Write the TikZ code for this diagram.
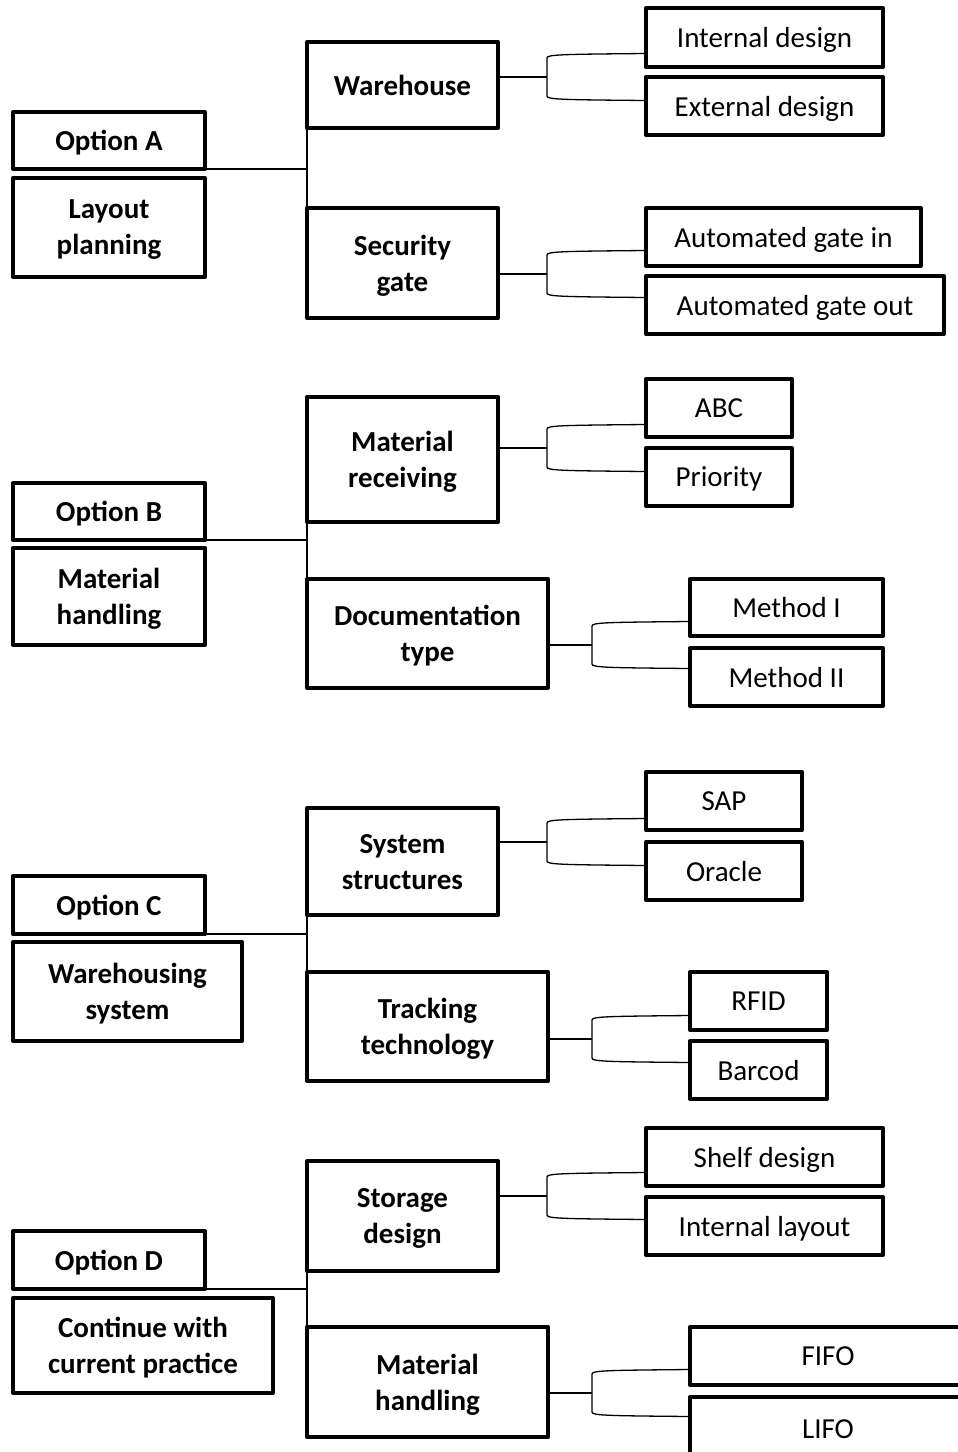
\documentclass[tikz,border=0pt]{standalone}
\usepackage{fontspec}
\setmainfont{Carlito}
\usetikzlibrary{calc}
\tikzset{
  bb/.style={draw, line width=4pt, line join=round, outer sep=0pt, inner sep=0pt,
    align=center, text depth=0pt, font=\bfseries\fontsize{29}{36}\selectfont},
  rb/.style={bb, font=\fontsize{29}{36}\selectfont},
  conn/.style={draw, line width=1.3pt}
}
\newcommand{\bx}[7]{%
  \node[#6, minimum width={#4-#2}, minimum height={#5-#3}] (#1) at ({(#2+#4)/2},{(#3+#5)/2+1}) {#7};}
\newcommand{\brk}[5]{% parent, top child, bottom child, stem y, bracket x
  \pgfmathsetmacro\bya{#4-23.5}\pgfmathsetmacro\byb{#4-19}%
  \pgfmathsetmacro\byc{#4+19}\pgfmathsetmacro\byd{#4+23.5}%
  \pgfmathsetmacro\bxa{#5+14}%
  \draw[conn] (#1.east |- 0,#4) -- (#5,#4);
  \draw[conn] (#2.west |- 0,\bya) .. controls (\bxa,\bya+0.8) and (#5,\bya+1) .. (#5,\byb)
    -- (#5,\byc) .. controls (#5,\byd-1) and (\bxa,\byd-0.8) .. (#3.west |- 0,\byd);}
\newcommand{\opt}[3]{% option, upper mid, lower mid
  \draw[conn] (#1.south east) -- (#1.south east -| #2.south west);
  \draw[conn] (#2.south west) -- (#3.north west);}
\begin{document}
\begin{tikzpicture}[x=1pt,y=-1pt]
\useasboundingbox (0,0) rectangle (958,1452);
\fill[white] (0,0) rectangle (958,1452);
\clip (0,0) rectangle (958,1452);
% Group A
\bx{optA}{13}{111}{205}{168}{bb}{Option A}
\bx{layA}{13}{177}{205}{276}{bb}{Layout\\planning}
\bx{wh}{307}{41}{498}{127}{bb}{Warehouse}
\bx{sec}{307}{207}{498}{317}{bb}{Security\\gate}
\bx{int}{646}{7}{883}{66}{rb}{Internal design}
\bx{ext}{646}{76}{883}{134}{rb}{External design}
\bx{gin}{646}{207}{921}{265}{rb}{Automated gate in}
\bx{gout}{646}{275}{944}{333}{rb}{Automated gate out}
\opt{optA}{wh}{sec}
\brk{wh}{int}{ext}{77}{547}
\brk{sec}{gin}{gout}{274}{547}
% Group B
\bx{optB}{13}{482}{205}{539}{bb}{Option B}
\bx{mhB}{13}{547}{205}{644}{bb}{Material\\handling}
\bx{mr}{307}{396}{498}{521}{bb}{Material\\receiving}
\bx{doc}{307}{578}{548}{687}{bb}{Documentation\\type}
\bx{abc}{646}{378}{792}{436}{rb}{ABC}
\bx{pri}{646}{447}{792}{505}{rb}{Priority}
\bx{mI}{690}{578}{883}{635}{rb}{Method I}
\bx{mII}{690}{647}{883}{705}{rb}{Method II}
\opt{optB}{mr}{doc}
\brk{mr}{abc}{pri}{448}{547}
\brk{doc}{mI}{mII}{645}{592}
% Group C
\bx{optC}{13}{875}{205}{933}{bb}{Option C}
\bx{ws}{13}{941}{242}{1040}{bb}{Warehousing\\system}
\bx{ss}{307}{807}{498}{914}{bb}{System\\structures}
\bx{tt}{307}{971}{548}{1080}{bb}{Tracking\\technology}
\bx{sap}{646}{771}{802}{829}{rb}{SAP}
\bx{ora}{646}{841}{802}{899}{rb}{Oracle}
\bx{rfid}{690}{971}{827}{1029}{rb}{RFID}
\bx{bar}{690}{1040}{827}{1098}{rb}{Barcod}
\opt{optC}{ss}{tt}
\brk{ss}{sap}{ora}{842}{547}
\brk{tt}{rfid}{bar}{1039}{592}
% Group D
\bx{optD}{13}{1230}{205}{1288}{bb}{Option D}
\bx{cont}{13}{1297}{273}{1392}{bb}{Continue with\\current practice}
\bx{sd}{307}{1160}{498}{1270}{bb}{Storage\\design}
\bx{mhD}{307}{1326}{548}{1436}{bb}{Material\\handling}
\bx{shelf}{646}{1127}{883}{1185}{rb}{Shelf design}
\bx{il}{646}{1196}{883}{1254}{rb}{Internal layout}
\bx{fifo}{690}{1326}{966}{1384}{rb}{FIFO}
\bx{lifo}{690}{1396}{966}{1461}{rb}{LIFO}
\opt{optD}{sd}{mhD}
\brk{sd}{shelf}{il}{1196}{547}
\brk{mhD}{fifo}{lifo}{1393}{592}
\end{tikzpicture}
\end{document}
